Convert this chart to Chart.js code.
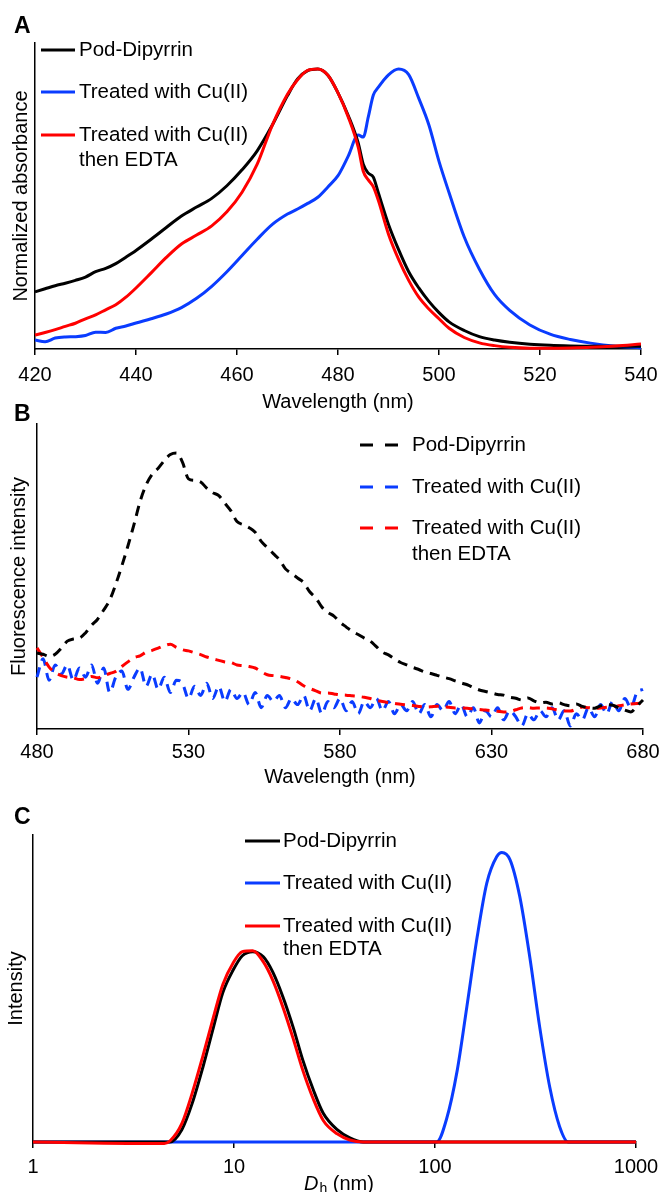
<!DOCTYPE html>
<html lang="en">
<head>
    <meta charset="UTF-8">
    <title>Pod-Dipyrrin: absorbance, fluorescence and DLS</title>
    <script src="https://cdn.jsdelivr.net/npm/chart.js@4.4.0/dist/chart.umd.min.js"></script>
    <style>
        body { margin: 0; background: #fff; width: 660px; height: 1192px; position: relative; overflow: hidden; }
        canvas { position: absolute; left: 0; }
        .tag { position: absolute; left: 14px; font: bold 23px 'Liberation Sans', Arial, sans-serif; line-height: 23px; }
    </style>
</head>
<body>
    <canvas id="absChart" width="660" height="414" style="top:0"></canvas>
    <canvas id="flChart" width="660" height="376" style="top:414px"></canvas>
    <canvas id="dlsChart" width="660" height="402" style="top:790px"></canvas>
    <div class="tag" style="top:14px">A</div>
    <div class="tag" style="top:402px">B</div>
    <div class="tag" style="top:805px">C</div>

    <script>
        // series names (legend text, last one wraps)
        const seriesNames = ['Pod-Dipyrrin', 'Treated with Cu(II)', 'Treated with Cu(II) then EDTA'];
        const legendLines = [['Pod-Dipyrrin'], ['Treated with Cu(II)'], ['Treated with Cu(II)', 'then EDTA']];

        // A: normalized absorbance
        const absTicks = [420, 440, 460, 480, 500, 520, 540];
        const absWavelength = [420, 422, 424, 426, 428, 430, 432, 434, 436, 438, 440,
            443, 446, 449, 452, 455, 458, 461, 464, 467, 470,
            472, 474, 476, 478, 480, 482, 484, 485, 486, 487, 488,
            490, 492, 494, 496, 498, 500, 502, 505, 508, 511, 514, 518, 522, 526, 530, 535, 540];
        const absPod = [0.204, 0.215, 0.226, 0.235, 0.245, 0.257, 0.276, 0.288, 0.305, 0.328, 0.352,
            0.392, 0.434, 0.475, 0.507, 0.538, 0.583, 0.64, 0.708, 0.8, 0.905,
            0.965, 0.994, 1.0, 0.978, 0.915, 0.835, 0.736, 0.66, 0.628, 0.614, 0.557,
            0.445, 0.355, 0.276, 0.218, 0.17, 0.13, 0.097, 0.066, 0.044, 0.032, 0.024, 0.017, 0.013, 0.011, 0.01, 0.01, 0.01];
        const absCu = [0.032, 0.026, 0.039, 0.043, 0.044, 0.048, 0.06, 0.059, 0.074, 0.082, 0.093,
            0.108, 0.125, 0.148, 0.181, 0.224, 0.276, 0.334, 0.392, 0.445, 0.482,
            0.5, 0.52, 0.542, 0.579, 0.619, 0.688, 0.764, 0.757, 0.829, 0.907, 0.935,
            0.979, 1.0, 0.98, 0.895, 0.8, 0.67, 0.558, 0.4, 0.285, 0.195, 0.138, 0.086, 0.053, 0.034, 0.021, 0.01, 0.004];
        const absEdta = [0.05, 0.059, 0.069, 0.081, 0.092, 0.108, 0.122, 0.14, 0.158, 0.185, 0.218,
            0.272, 0.327, 0.375, 0.407, 0.44, 0.49, 0.56, 0.66, 0.8, 0.91,
            0.962, 0.995, 1.0, 0.978, 0.915, 0.83, 0.721, 0.635, 0.604, 0.579, 0.53,
            0.41, 0.32, 0.245, 0.185, 0.143, 0.108, 0.074, 0.041, 0.022, 0.012, 0.006, 0.003, 0.003, 0.004, 0.006, 0.011, 0.018];

        // B: fluorescence intensity (arbitrary units)
        const flTicks = [480, 530, 580, 630, 680];
        const flWavelength = [480, 482, 484, 486, 488, 490, 492, 494, 496, 498,
            500, 502, 504, 506, 508, 510, 512, 514, 516, 518,
            520, 522, 524, 526, 528, 530, 532, 534, 536, 538,
            540, 542, 544, 546, 548, 550, 552, 554, 556, 558,
            560, 562, 564, 566, 568, 570, 572, 574, 576, 578,
            580, 582, 584, 586, 588, 590, 592, 594, 596, 598,
            600, 602, 604, 606, 608, 610, 612, 614, 616, 618,
            620, 622, 624, 626, 628, 630, 632, 634, 636, 638,
            640, 642, 644, 646, 648, 650, 652, 654, 656, 658,
            660, 662, 664, 666, 668, 670, 672, 674, 676, 678, 680];
        const flPod = [24.9, 24.5, 23.8, 24.5, 26.5, 28.8, 29.5, 29.8, 31.5, 34,
            36, 39, 42.3, 47.5, 53.5, 60, 67, 74.5, 80, 83.5,
            85.5, 88, 90, 90.5, 87.5, 82, 81.5, 81, 79, 77.5,
            76.5, 74, 71.5, 68, 67, 66, 64.5, 61.5, 59.5, 57.5,
            55.5, 52.5, 51, 49.5, 48, 45, 43, 40, 38.2, 37,
            35, 33.5, 32, 31, 29.8, 28.8, 27, 25.2, 24.3, 23,
            21.8, 21, 20.2, 19.5, 18.7, 18.2, 17.6, 17, 16.5, 15.8,
            15.1, 14.5, 13.6, 12.8, 12.3, 11.8, 11.3, 11.1, 10.4, 10.1,
            9.5, 10.2, 9.2, 8.6, 8.8, 8.2, 8.6, 8.0, 7.6, 8.2,
            7.4, 7.0, 6.8, 7.6, 8.0, 7.8, 7.0, 6.2, 5.6, 7.5, 9.5];
        const flCu = [17, 23, 16, 21, 18, 21, 16, 20, 17, 21,
            15, 20, 12, 17, 19, 13, 17, 20, 14, 18,
            13, 17, 12, 16, 15, 10, 14, 11, 15, 10,
            14, 9, 13, 10, 12, 8, 12, 7, 11, 9,
            11, 7, 10, 8, 11, 6, 10, 5, 9, 7,
            10, 6, 9, 5, 9, 7, 10, 6, 9, 5,
            8, 6, 9, 5, 8, 4, 8, 6, 9, 5,
            8, 4, 7, 2, 6, 4, 7, 3, 6, 4,
            1, 5, 3, 6, 4, 7, 3, 6, 1, 5,
            3, 7, 4, 8, 5, 9, 6, 10, 7, 12, 13];
        const flEdta = [26.6, 23.5, 20.3, 18.5, 17.5, 17, 16.8, 16.2, 16.5, 17.2,
            16.8, 17.5, 18.2, 18.9, 20.5, 22, 23.4, 24, 25.2, 25.8,
            26.5, 27.3, 27.8, 26.8, 26, 25.6, 25, 24.4, 23.6, 23,
            22.5, 22, 21.8, 21, 20.8, 20.5, 20, 18.8, 17.8, 17.5,
            17.3, 16.9, 16.4, 15.5, 14.2, 13.3, 12.5, 11.8, 11.8, 11.5,
            11.2, 11.1, 10.9, 10.7, 10.4, 10, 9.4, 9, 8.7, 8.4,
            8.1, 7.9, 7.7, 7.4, 7.2, 7.3, 7.5, 7.4, 7.1, 6.9,
            6.9, 6.8, 6.6, 6.4, 6.2, 6.0, 5.8, 5.6, 5.7, 6.3,
            6.9, 7.0, 6.8, 6.9, 6.9, 6.6, 6.2, 5.9, 5.9, 6.5,
            7.2, 7.0, 6.8, 6.9, 7.1, 7.3, 7.6, 7.9, 8.2, 8.4, 8.5];

        // C: DLS size distribution (intensity, arbitrary units)
        const dlsTicks = [1, 10, 100, 1000];
        const dlsSize = [1, 4.5, 4.8, 5.5, 6.2, 7, 7.9, 8.8, 9.9, 11, 12.4, 14, 15.6, 17.5, 19.7, 22, 24.8, 27.8, 32.6, 37.7, 44, 50,
            102, 114, 129, 144, 162, 181, 203, 215, 236, 264, 296, 332, 372, 417, 460, 1000];
        const dlsPod = [0, 0, 0, 1.2, 3.8, 7.3, 11.2, 14.6, 16.8, 18.2, 18.6, 18.1, 16.6, 14.2, 11.2, 8.0, 5.1, 2.8, 1.2, 0.4, 0, 0,
            0, 0, 0, 0, 0, 0, 0, 0, 0, 0, 0, 0, 0, 0, 0, 0];
        const dlsCu = [0, 0, 0, 0, 0, 0, 0, 0, 0, 0, 0, 0, 0, 0, 0, 0, 0, 0, 0, 0, 0, 0,
            0, 2.2, 7.0, 13.2, 20, 25.3, 27.9, 28.3, 27.6, 24, 18.1, 11.2, 5.4, 1.5, 0, 0];
        const dlsEdta = [0, -0.15, 0.1, 1.8, 4.8, 8.4, 12.2, 15.4, 17.5, 18.6, 18.7, 17.6, 15.8, 13.2, 10.1, 7.0, 4.2, 2.1, 0.8, 0.2, 0, 0,
            0, 0, 0, 0, 0, 0, 0, 0, 0, 0, 0, 0, 0, 0, 0, 0];

        const SANS = "'Liberation Sans', Arial, sans-serif";
        const colors = ['#000000', '#0a3cff', '#ff0000'];

        Chart.defaults.font.family = SANS;
        Chart.defaults.color = '#000';

        function lineSet(i, xs, ys, order, dash) {
            return {
                label: seriesNames[i],
                order: order,
                data: xs.map((x, k) => ({ x: x, y: ys[k] })),
                borderColor: colors[i],
                borderWidth: 3,
                borderDash: dash || [],
                pointRadius: 0,
                fill: false,
                clip: false,
                cubicInterpolationMode: 'monotone'
            };
        }

        // legend drawn next to the data, with a wrapped third label
        function sideLegend(cfg) {
            return {
                id: 'sideLegend',
                afterDraw(chart) {
                    const ctx = chart.ctx;
                    ctx.save();
                    ctx.font = cfg.font;
                    ctx.textBaseline = 'middle';
                    cfg.rows.forEach((y, i) => {
                        ctx.beginPath();
                        ctx.setLineDash(cfg.dash || []);
                        ctx.lineWidth = 3;
                        ctx.strokeStyle = colors[i];
                        ctx.moveTo(cfg.x0, y);
                        ctx.lineTo(cfg.x1, y);
                        ctx.stroke();
                        ctx.setLineDash([]);
                        ctx.fillStyle = '#000';
                        legendLines[i].forEach((t, k) => ctx.fillText(t, cfg.tx, y + k * cfg.gap));
                    });
                    ctx.restore();
                }
            };
        }

        // tick padding is 0 (it would also widen the side padding); the labels
        // are pushed down through the font line height instead
        function xAxis(type, min, max, ticks, height, lineHeight, title) {
            return {
                type: type, min: min, max: max,
                afterBuildTicks: s => { s.ticks = ticks.map(v => ({ value: v })); },
                afterFit: s => { s.height = height; },
                ticks: { font: { size: 20, lineHeight: lineHeight }, padding: 0, maxRotation: 0, autoSkip: false, callback: v => String(v) },
                grid: { drawOnChartArea: false, tickLength: 6, color: '#000', lineWidth: 1.5 },
                border: { color: '#000', width: 1.5 },
                title: title
            };
        }

        function yAxis(max, width, text, padTop) {
            return {
                min: 0, max: max,
                afterFit: s => { s.width = width; },
                ticks: { display: false },
                grid: { display: false },
                border: { color: '#000', width: 1.5 },
                title: { display: true, text: text, font: { size: 20 }, padding: { top: padTop, bottom: 0 } }
            };
        }

        const baseOptions = {
            responsive: false,
            animation: false,
            events: [],
            plugins: { legend: { display: false }, tooltip: { enabled: false } }
        };

        // Panel A
        new Chart(document.getElementById('absChart'), {
            type: 'line',
            data: {
                datasets: [
                    lineSet(0, absWavelength, absPod, 1),
                    lineSet(1, absWavelength, absCu, 2),
                    lineSet(2, absWavelength, absEdta, 0)
                ]
            },
            options: Object.assign({}, baseOptions, {
                layout: { padding: { top: 43, right: 19, left: 0, bottom: 0 } },
                scales: {
                    x: xAxis('linear', 420, 540, absTicks, 65, 2.0,
                        { display: true, text: 'Wavelength (nm)', font: { size: 20 }, padding: { top: 0, bottom: 0 } }),
                    y: yAxis(1.093, 35, 'Normalized absorbance', 9)
                }
            }),
            plugins: [sideLegend({ font: '20.5px ' + SANS, x0: 41, x1: 75, tx: 79, rows: [50, 92, 135], gap: 25 })]
        });

        // Panel B
        new Chart(document.getElementById('flChart'), {
            type: 'line',
            data: {
                datasets: [
                    lineSet(0, flWavelength, flPod, 0, [10, 7]),
                    lineSet(1, flWavelength, flCu, 2, [10, 7]),
                    lineSet(2, flWavelength, flEdta, 1, [10, 7])
                ]
            },
            options: Object.assign({}, baseOptions, {
                layout: { padding: { top: 10, right: 17, left: 0, bottom: 0 } },
                scales: {
                    x: xAxis('linear', 480, 680, flTicks, 61, 1.7,
                        { display: true, text: 'Wavelength (nm)', font: { size: 20 }, padding: { top: 0, bottom: 1 } }),
                    y: yAxis(100, 37, 'Fluorescence intensity', 7.5)
                }
            }),
            plugins: [sideLegend({ font: '20.5px ' + SANS, x0: 360, x1: 398, tx: 412, rows: [31, 73, 114], gap: 26, dash: [13, 12] })]
        });

        // Panel C, x title has an italic D with subscript h
        const dhTitle = {
            id: 'dhTitle',
            afterDraw(chart) {
                const ctx = chart.ctx;
                const a = chart.chartArea;
                const fD = 'italic 20px ' + SANS, fH = '14px ' + SANS, fR = '20px ' + SANS;
                ctx.save();
                ctx.fillStyle = '#000';
                ctx.textBaseline = 'alphabetic';
                ctx.font = fD; const wD = ctx.measureText('D').width;
                ctx.font = fH; const wH = ctx.measureText('h').width;
                ctx.font = fR; const wR = ctx.measureText(' (nm)').width;
                let x = (a.left + a.right) / 2 + 4 - (wD + wH + wR) / 2;
                const y = 400;
                ctx.font = fD; ctx.fillText('D', x, y); x += wD + 1;
                ctx.font = fH; ctx.fillText('h', x, y + 3); x += wH;
                ctx.font = fR; ctx.fillText(' (nm)', x, y);
                ctx.restore();
            }
        };

        new Chart(document.getElementById('dlsChart'), {
            type: 'line',
            data: {
                datasets: [
                    lineSet(0, dlsSize, dlsPod, 1),
                    lineSet(1, dlsSize, dlsCu, 2),
                    lineSet(2, dlsSize, dlsEdta, 0)
                ]
            },
            options: Object.assign({}, baseOptions, {
                layout: { padding: { top: 45, right: 24, left: 0, bottom: 0 } },
                scales: {
                    x: xAxis('logarithmic', 1, 1000, dlsTicks, 50, 1.9, { display: false }),
                    y: yAxis(30, 33, 'Intensity', 4)
                }
            }),
            plugins: [sideLegend({ font: '20.5px ' + SANS, x0: 245, x1: 280, tx: 283, rows: [51, 93, 136], gap: 23 }), dhTitle]
        });
    </script>
</body>
</html>
